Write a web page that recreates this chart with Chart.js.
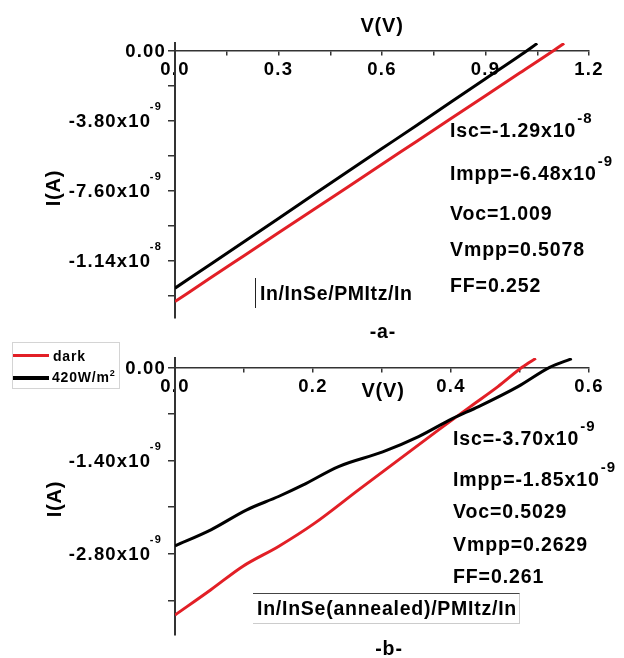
<!DOCTYPE html>
<html>
<head>
<meta charset="utf-8">
<script src="https://cdn.jsdelivr.net/npm/chart.js@4.4.1/dist/chart.umd.min.js"></script>
<style>
  body { margin: 0; background: #fff; }
  #wrap { position: relative; width: 624px; height: 658px; background: #fff; overflow: hidden; }
  canvas { position: absolute; left: 0; }
  .t { position: absolute; font: bold 19.5px 'Liberation Sans', Arial, sans-serif; letter-spacing: .9px;
       line-height: 1; white-space: nowrap; color: #000; }
  .sup { font-size: 15px; position: relative; top: -14px; margin-left: 1px; letter-spacing: 1px; }
  .ax { position: absolute; font: bold 20px 'Liberation Sans', Arial, sans-serif; letter-spacing: .8px;
        line-height: 1; white-space: nowrap; }
  .lg { position: absolute; font: bold 14px 'Liberation Sans', Arial, sans-serif; letter-spacing: .8px;
        line-height: 1; white-space: nowrap; }
</style>
</head>
<body>
<div id="wrap">
  <canvas id="chart-a" width="624" height="329" style="top:0"></canvas>
  <canvas id="chart-b" width="624" height="329" style="top:329px"></canvas>
</div>
<script>
/* ---- panel a data (V in volts, I in nA) ---- */
var aBlackV = [0, 0.1, 0.2, 0.3, 0.4, 0.5, 0.6, 0.7, 0.8, 0.9, 1.0, 1.05];
var aBlackI = [-12.88, -11.62, -10.36, -9.10, -7.83, -6.57, -5.31, -4.05, -2.78, -1.52, -0.26, 0.40];
var aRedV   = [0, 0.1, 0.2, 0.3, 0.4, 0.5, 0.6, 0.7, 0.8, 0.9, 1.0, 1.1, 1.128];
var aRedI   = [-13.61, -12.36, -11.12, -9.88, -8.64, -7.40, -6.16, -4.92, -3.68, -2.44, -1.20, 0.04, 0.40];
var aXTicks  = [0, 0.15, 0.3, 0.45, 0.6, 0.75, 0.9, 1.05, 1.2];
var aXLabels = ['0.0', '', '0.3', '', '0.6', '', '0.9', '', '1.2'];
var aYTicks  = [-13.3, -11.4, -9.5, -7.6, -5.7, -3.8, -1.9, 0];
var aYLabels = ['', '-1.14x10', '', '-7.60x10', '', '-3.80x10', '', '0.00'];
var aYExps   = ['', '-8', '', '-9', '', '-9', '', ''];
var aNotes = [['Isc=-1.29x10', '-8'], ['Impp=-6.48x10', '-9'], ['Voc=1.009', ''], ['Vmpp=0.5078', ''], ['FF=0.252', '']];

/* ---- panel b data ---- */
var bBlackV = [0, 0.052, 0.104, 0.150, 0.185, 0.237, 0.301, 0.353, 0.402, 0.440, 0.497, 0.543, 0.575];
var bBlackI = [-2.68, -2.44, -2.14, -1.94, -1.77, -1.49, -1.27, -1.04, -0.77, -0.59, -0.29, 0.0, 0.13];
var bRedV   = [0, 0.052, 0.098, 0.150, 0.2025, 0.266, 0.324, 0.382, 0.428, 0.468, 0.503, 0.523];
var bRedI   = [-3.72, -3.34, -2.99, -2.69, -2.34, -1.84, -1.39, -0.94, -0.59, -0.29, 0.0, 0.135];
var bXTicks  = [0, 0.1, 0.2, 0.3, 0.4, 0.5, 0.6];
var bXLabels = ['0.0', '', '0.2', '', '0.4', '', '0.6'];
var bYTicks  = [-3.5, -2.8, -2.1, -1.4, -0.7, 0];
var bYLabels = ['', '-2.80x10', '', '-1.40x10', '', '0.00'];
var bYExps   = ['', '-9', '', '-9', '', ''];
var bNotes = [['Isc=-3.70x10', '-9'], ['Impp=-1.85x10', '-9'], ['Voc=0.5029', ''], ['Vmpp=0.2629', ''], ['FF=0.261', '']];

var seriesNames = ['dark', '420W/m'];

var RED = '#e21f26';
var INK = '#000000';
var AXIS = '#333333';
var FONT = "'Liberation Sans', Arial, sans-serif";

function pts(xs, ys) {
  return xs.map(function(v, i) { return { x: v, y: ys[i] }; });
}

var spacing = {
  id: 'spacing',
  beforeDraw: function(chart) { chart.ctx.letterSpacing = '1.2px'; }
};

// y tick labels with a raised exponent, placed on the y scale's own tick pixels
var expLabels = {
  id: 'expLabels',
  afterDraw: function(chart, args, opts) {
    var s = chart.scales.y;
    var ctx = chart.ctx;
    ctx.save();
    ctx.fillStyle = INK;
    ctx.textAlign = 'right';
    ctx.textBaseline = 'alphabetic';
    ctx.letterSpacing = '1.2px';
    opts.labels.forEach(function(lab, i) {
      if (!lab) return;
      var y = s.getPixelForValue(opts.ticks[i]);
      var x = s.right - 9;
      if (opts.exps[i]) {
        x = s.right - 13;
        ctx.font = 'bold 11px ' + FONT;
        ctx.fillText(opts.exps[i], x, y - 10.5);
        x -= ctx.measureText(opts.exps[i]).width - 1.5;
      }
      ctx.font = 'bold 18.5px ' + FONT;
      ctx.fillText(lab, x, y + 6.6);
    });
    ctx.restore();
  }
};

function panelOptions(xMax, yMin, yMax, xTicks, xLabels, yTicks, yLabels, yExps, pad) {
  return {
    responsive: false,
    animation: false,
    layout: { padding: pad },
    plugins: {
      legend: { display: false },
      tooltip: { enabled: false },
      expLabels: { ticks: yTicks, labels: yLabels, exps: yExps }
    },
    elements: { point: { radius: 0 }, line: { borderWidth: 3, cubicInterpolationMode: 'monotone' } },
    scales: {
      x: {
        type: 'linear', min: 0, max: xMax,
        position: { y: 0 },
        afterBuildTicks: function(s) { s.ticks = xTicks.map(function(v) { return { value: v }; }); },
        ticks: {
          autoSkip: false, maxRotation: 0, padding: 4, color: INK,
          font: { family: FONT, size: 18.5, weight: 'bold' },
          callback: function(v, i) { return xLabels[i]; }
        },
        grid: { drawOnChartArea: false, tickLength: 4, color: AXIS, lineWidth: 1.5 },
        border: { color: AXIS, width: 1.5 }
      },
      y: {
        type: 'linear', min: yMin, max: yMax,
        afterFit: function(s) { s.width = 175; s.paddingTop = 0; s.paddingBottom = 0; },
        afterBuildTicks: function(s) { s.ticks = yTicks.map(function(v) { return { value: v }; }); },
        ticks: { display: false },
        grid: { drawOnChartArea: false, tickLength: 7, color: AXIS, lineWidth: 1.5 },
        border: { color: AXIS, width: 2 }
      }
    }
  };
}

/* --- Panel a --- */
new Chart(document.getElementById('chart-a'), {
  type: 'line',
  data: {
    datasets: [
      { label: seriesNames[1], data: pts(aBlackV, aBlackI), borderColor: INK },
      { label: seriesNames[0], data: pts(aRedV, aRedI), borderColor: RED }
    ]
  },
  options: panelOptions(1.2, -14.5, 0.42, aXTicks, aXLabels, aYTicks, aYLabels, aYExps,
    { left: 0, right: 35, top: 43, bottom: 11 }),
  plugins: [spacing, expLabels]
});

/* --- Panel b --- */
new Chart(document.getElementById('chart-b'), {
  type: 'line',
  data: {
    datasets: [
      { label: seriesNames[1], data: pts(bBlackV, bBlackI), borderColor: INK },
      { label: seriesNames[0], data: pts(bRedV, bRedI), borderColor: RED }
    ]
  },
  options: panelOptions(0.6, -4.02, 0.14, bXTicks, bXLabels, bYTicks, bYLabels, bYExps,
    { left: 0, right: 35, top: 29, bottom: 23 }),
  plugins: [spacing, expLabels]
});

/* --- text overlays --- */
var wrap = document.getElementById('wrap');
function addText(cls, html, css) {
  var d = document.createElement('div');
  d.className = cls;
  d.innerHTML = html;
  d.style.cssText = css;
  wrap.appendChild(d);
  return d;
}

function addNotes(notes, left, tops) {
  notes.forEach(function(n, i) {
    var html = n[0] + (n[1] ? '<span class="sup">' + n[1] + '</span>' : '');
    addText('t', html, 'left:' + left + 'px;top:' + tops[i] + 'px');
  });
}
addNotes(aNotes, 450, [121, 164, 203.5, 240, 275.5]);
addNotes(bNotes, 453, [428.5, 469.5, 502, 535, 567]);

addText('t', 'In/InSe/PMItz/In',
  'left:255px;top:278px;height:30px;line-height:30px;padding-left:4px;border-left:1px solid #222;letter-spacing:.6px');
addText('t', 'In/InSe(annealed)/PMItz/In',
  'left:253px;top:593px;width:262px;height:29px;line-height:29px;padding-left:4px;' +
  'border-top:1px solid #444;border-right:1px solid #ccc;border-bottom:1px solid #ccc;letter-spacing:.75px');

addText('t', '-a-', 'left:383px;top:322px;transform:translateX(-50%)');
addText('t', '-b-', 'left:389px;top:639px;transform:translateX(-50%)');

addText('ax', 'V(V)', 'left:382px;top:15px;transform:translateX(-50%)');
addText('ax', 'V(V)', 'left:383px;top:380px;transform:translateX(-50%)');
addText('ax', 'I(A)', 'left:53px;top:188px;transform:translate(-50%,-50%) rotate(-90deg)');
addText('ax', 'I(A)', 'left:54px;top:499px;transform:translate(-50%,-50%) rotate(-90deg)');

/* --- legend (panel b, top left) --- */
addText('lg', '', 'left:12px;top:342px;width:106px;height:45px;border:1px solid #d4d4d4');
addText('lg', '', 'left:13px;top:353.5px;width:36px;height:3px;background:' + RED);
addText('lg', '', 'left:13px;top:375.5px;width:36px;height:4px;background:' + INK);
addText('lg', seriesNames[0], 'left:53px;top:349px');
addText('lg', seriesNames[1] + '<span style="font-size:9px;position:relative;top:-6px">2</span>', 'left:52px;top:370px');
</script>
</body>
</html>
